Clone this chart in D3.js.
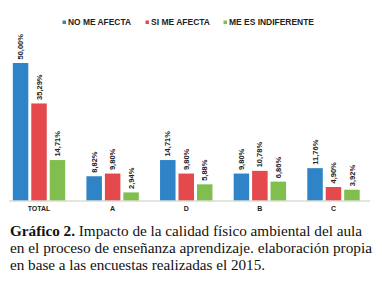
<!DOCTYPE html>
<html>
<head>
<meta charset="utf-8">
<script src="https://cdn.jsdelivr.net/npm/d3@7"></script>
<style>
  body { margin: 0; background: #fff; }
  svg { display: block; }
</style>
</head>
<body>
<svg id="chart" width="382" height="285"></svg>
<script>
// chart values
const categories = ["TOTAL", "A", "D", "B", "C"];
const seriesNames = ["NO ME AFECTA", "SI ME AFECTA", "ME ES INDIFERENTE"];
const noMeAfecta = [50.0, 8.82, 14.71, 9.8, 11.76];
const siMeAfecta = [35.29, 9.8, 9.8, 10.78, 4.9];
const meEsIndiferente = [14.71, 2.94, 5.88, 6.86, 3.92];
const seriesValues = [noMeAfecta, siMeAfecta, meEsIndiferente];
const colors = ["#2f84c8", "#e4494e", "#80bf4d"];

const narrow = "'Liberation Sans Narrow', 'Arial Narrow', 'Liberation Sans', Arial, sans-serif";

const svg = d3.select("#chart");

// scales
const x0 = d3.scaleBand().domain(categories).range([2.2, 370.3]).padding(0);
const x1 = d3
  .scaleBand()
  .domain(seriesNames)
  .range([10.6, x0.bandwidth() - 10.6])
  .paddingInner(0.16);
const y = d3.scaleLinear().domain([0, 50]).range([200.5, 63]);

// bars
const groups = svg
  .append("g")
  .selectAll("g")
  .data(categories)
  .join("g")
  .attr("transform", (d) => "translate(" + x0(d) + ",0)");

groups
  .selectAll("rect")
  .data((d, i) => seriesNames.map((s, j) => ({ s: s, j: j, v: seriesValues[j][i] })))
  .join("rect")
  .attr("x", (d) => x1(d.s))
  .attr("y", (d) => y(d.v))
  .attr("width", x1.bandwidth())
  .attr("height", (d) => y(0) - y(d.v))
  .attr("fill", (d) => colors[d.j]);

// value labels (rotated)
groups
  .selectAll("text")
  .data((d, i) => seriesNames.map((s, j) => ({ s: s, j: j, v: seriesValues[j][i] })))
  .join("text")
  .attr("transform", (d) =>
    "translate(" + (x1(d.s) + x1.bandwidth() / 2) + "," + (y(d.v) - 3.5) + ") rotate(-90)"
  )
  .attr("dy", "0.35em")
  .attr("text-anchor", "start")
  .style("font-family", narrow)
  .style("font-weight", "bold")
  .style("font-size", "7.5px")
  .style("fill", "#222")
  .text((d) => d.v.toFixed(2).replace(".", ",") + "%");

// x axis line
svg
  .append("line")
  .attr("x1", 9)
  .attr("x2", 370)
  .attr("y1", y(0) + 0.5)
  .attr("y2", y(0) + 0.5)
  .attr("stroke", "#c4cdb8")
  .attr("stroke-width", 1);

// category labels
svg
  .append("g")
  .selectAll("text")
  .data(categories)
  .join("text")
  .attr("x", (d) => x0(d) + x0.bandwidth() / 2)
  .attr("y", 211)
  .attr("text-anchor", "middle")
  .style("font-family", narrow)
  .style("font-weight", "bold")
  .style("font-size", "7px")
  .style("fill", "#222")
  .text((d) => d);

// legend
const legendX = [62.5, 145.5, 223.5];
const legendW = [63, 59, 85];
const legend = svg
  .append("g")
  .selectAll("g")
  .data(seriesNames)
  .join("g")
  .attr("transform", (d, i) => "translate(" + legendX[i] + ",22)");

legend
  .append("rect")
  .attr("x", 0)
  .attr("y", -1.5)
  .attr("width", 3.5)
  .attr("height", 3.5)
  .attr("fill", (d, i) => colors[i]);

legend
  .append("text")
  .attr("x", 5.5)
  .attr("y", 3.3)
  .attr("textLength", (d, i) => legendW[i])
  .attr("lengthAdjust", "spacingAndGlyphs")
  .style("font-family", narrow)
  .style("font-weight", "bold")
  .style("font-size", "9.5px")
  .style("fill", "#222")
  .text((d) => d);

// caption
const captionLines = [
  ["Gráfico 2.", " Impacto de la calidad físico ambiental del aula"],
  ["", "en el proceso de enseñanza aprendizaje. elaboración propia"],
  ["", "en base a las encuestas realizadas el 2015."]
];
const captionW = [352, 362, 255];
const caption = svg
  .append("g")
  .selectAll("text")
  .data(captionLines)
  .join("text")
  .attr("x", 10)
  .attr("y", (d, i) => 235.7 + i * 17.2)
  .attr("textLength", (d, i) => captionW[i])
  .attr("lengthAdjust", "spacingAndGlyphs")
  .style("font-family", "'Liberation Serif', 'Times New Roman', serif")
  .style("font-size", "15px")
  .style("fill", "#111");

caption
  .append("tspan")
  .style("font-weight", "bold")
  .text((d) => d[0]);
caption.append("tspan").text((d) => d[1]);
</script>
</body>
</html>
